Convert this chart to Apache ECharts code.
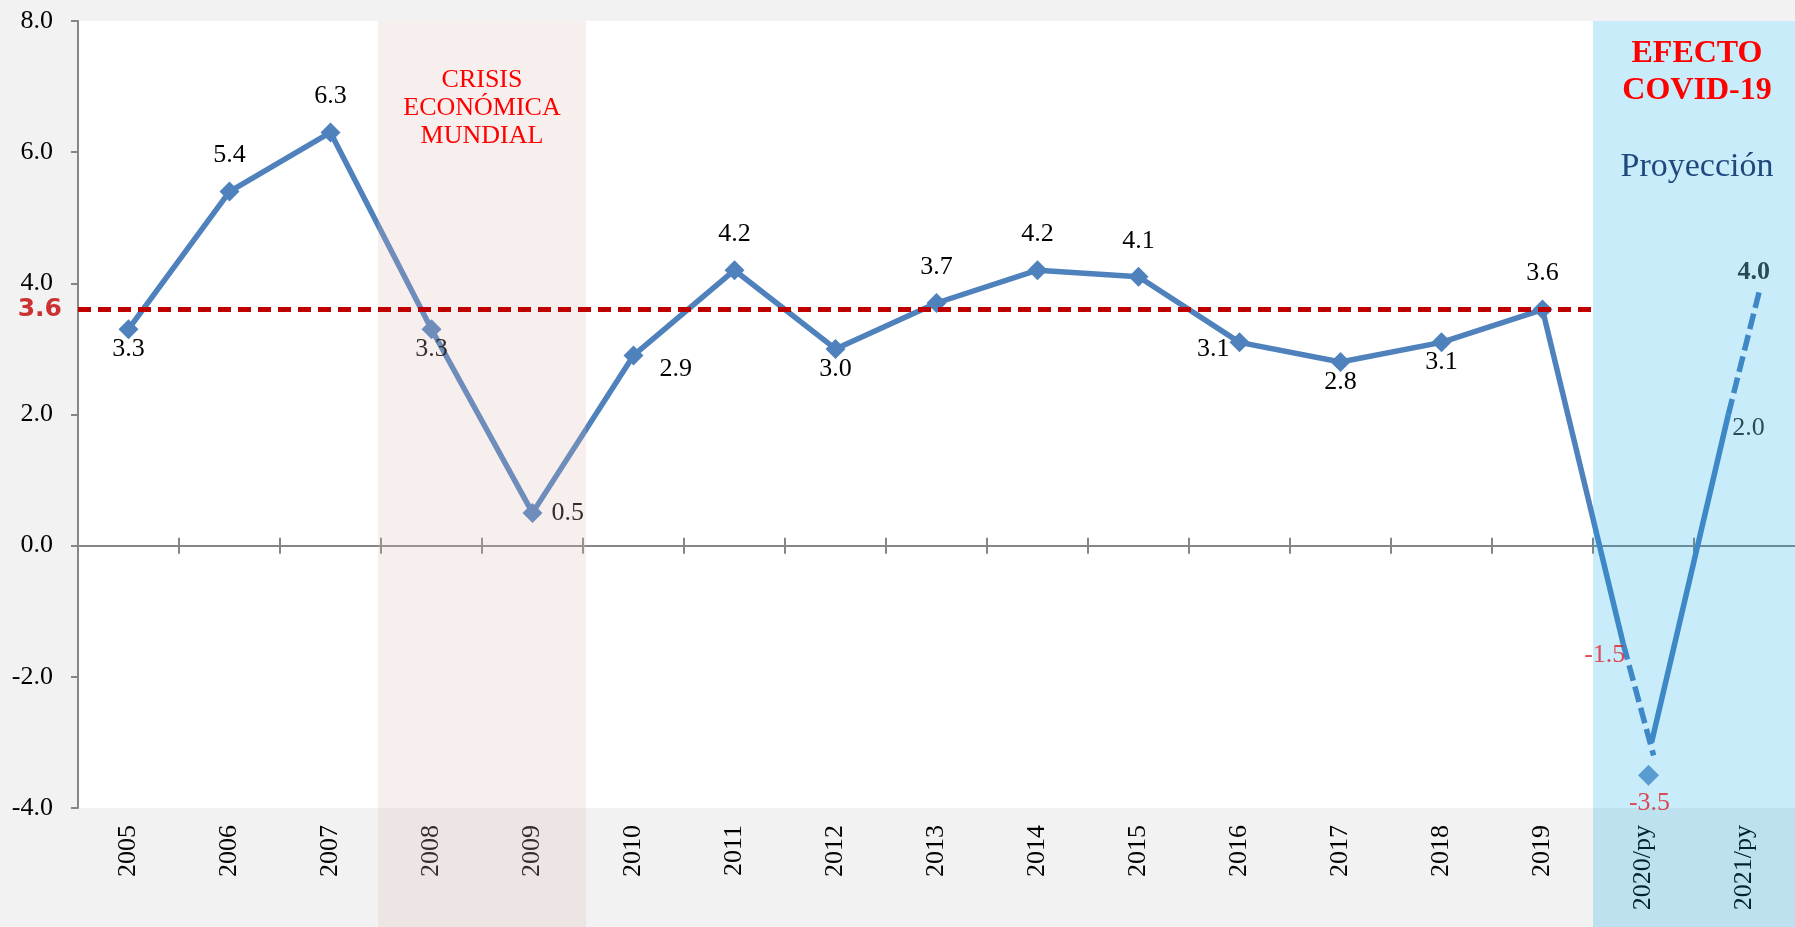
<!DOCTYPE html>
<html>
<head>
<meta charset="utf-8">
<title>Crecimiento</title>
<script src="https://cdn.jsdelivr.net/npm/echarts@6/dist/echarts.min.js"></script>
<style>
    html, body { margin: 0; padding: 0; background: #f2f2f2; }
    #main { width: 1795px; height: 927px; }
</style>
</head>
<body>
<div id="main"></div>
<script>
// categorias y valores
var years = ['2005', '2006', '2007', '2008', '2009', '2010', '2011', '2012', '2013',
    '2014', '2015', '2016', '2017', '2018', '2019', '2020/py', '2021/py'];
var growth = [3.3, 5.4, 6.3, 3.3, 0.5, 2.9, 4.2, 3.0, 3.7, 4.2, 4.1, 3.1, 2.8, 3.1, 3.6];
// lado de la etiqueta de cada punto
var labelSide = ['b', 't', 't', 'b', 'r', 'rb', 't', 'b', 't', 't', 't', 'l', 'b', 'b', 't'];

var avgGrowth = 3.6;            // promedio 2005-2019
var avgFrom = 0, avgTo = 14;    // indices 2005 .. 2019

// proyecciones: primera estimacion y estimacion actual
var projFirst = [-1.5, 2.0];    // 2020/py, 2021/py
var projNow = [-3.5, 4.0];      // 2020/py, 2021/py

// trazos de la proyeccion (x en unidades de categoria, 15 = 2020/py, 16 = 2021/py)
var projSolidA = [[14, 3.6], [14.8, -1.5]];
var projDashA = [[14.8, -1.5], [15.1, -3.2]];
var projSolidB = [[15.08, -3.0], [15.84, 2.0]];
var projDashB = [[15.84, 2.0], [16.15, 3.9]];

var yMin = -4, yMax = 8, yStep = 2;

var crisisYears = ['2008', '2009'];
var covidYears = ['2020/py', '2021/py'];

var serif = 'Liberation Serif';
var blue = '#4f81bd';
var axisGray = '#868686';

var sides = {
    t: {position: 'top', distance: 13},
    b: {position: 'bottom', distance: -3},
    r: {position: 'right', distance: 9},
    rb: {position: 'right', distance: 16, offset: [0, 14]},
    l: {position: 'left', distance: 0, offset: [0, 7]}
};

var myChart = echarts.init(document.getElementById('main'));

var mainData = growth.map(function (v, i) {
    return {value: v, label: sides[labelSide[i]]};
});

function projLine(data, dashed) {
    return {
        type: 'line',
        xAxisIndex: 2,
        data: data,
        symbol: 'none',
        silent: true,
        lineStyle: {color: blue, width: 5.5, type: dashed ? [16, 6] : 'solid'}
    };
}

function oneDecimal(p) {
    return p.value[1].toFixed(1);
}

var i2020 = years.indexOf('2020/py');

var option = {
    animation: false,
    backgroundColor: '#f2f2f2',
    grid: {
        left: 78,
        right: 0,
        top: 21,
        bottom: 119,
        show: true,
        backgroundColor: '#fff',
        borderWidth: 0
    },
    xAxis: [{
        type: 'category',
        data: years,
        position: 'bottom',
        axisLine: {show: false, onZero: false},
        axisTick: {show: false},
        axisLabel: {rotate: 90, margin: 17, color: '#000', fontFamily: serif, fontSize: 26, interval: 0}
    }, {
        type: 'category',
        data: years,
        position: 'bottom',
        axisLine: {onZero: true, onZeroAxisIndex: 0, lineStyle: {color: axisGray, width: 2}},
        axisTick: {show: false},
        axisLabel: {show: false}
    }, {
        type: 'value',
        position: 'top',
        min: -0.5,
        max: years.length - 0.5,
        show: false
    }],
    yAxis: {
        type: 'value',
        min: yMin,
        max: yMax,
        interval: yStep,
        axisLine: {show: true, onZero: false, lineStyle: {color: axisGray, width: 2}},
        axisTick: {show: true, length: 7, lineStyle: {color: axisGray, width: 2}},
        splitLine: {show: false},
        axisLabel: {
            margin: 25,
            color: '#000',
            fontFamily: serif,
            fontSize: 26,
            formatter: function (v) { return v.toFixed(1); }
        }
    },
    series: [{
        // marcas que cruzan el eje en 0, entre categorias
        name: 'ticks',
        type: 'custom',
        xAxisIndex: 0,
        silent: true,
        data: years.slice(1).map(function (c, i) { return [i + 1, 0]; }),
        renderItem: function (params, api) {
            var p = api.coord([api.value(0), 0]);
            var x = p[0] - api.size([1, 0])[0] / 2;
            return {
                type: 'line',
                shape: {x1: x, y1: p[1] - 8, x2: x, y2: p[1] + 8},
                style: {stroke: axisGray, lineWidth: 2}
            };
        }
    }, {
        name: 'PIB',
        type: 'line',
        xAxisIndex: 0,
        data: mainData,
        symbol: 'diamond',
        symbolSize: 20,
        itemStyle: {color: blue},
        lineStyle: {color: blue, width: 5.5},
        label: {
            show: true,
            color: '#000',
            fontFamily: serif,
            fontSize: 26,
            formatter: function (p) { return p.value.toFixed(1); }
        }
    }, {
        name: '2020',
        type: 'scatter',
        xAxisIndex: 0,
        data: [[i2020, projNow[0]]],
        symbol: 'diamond',
        symbolSize: 21,
        symbolOffset: [5, 0],
        itemStyle: {color: blue}
    },
        projLine(projSolidA, false),
        projLine(projDashA, true),
        projLine(projSolidB, false),
        projLine(projDashB, true),
    {
        // etiquetas 2.0 / 4.0 (bajo la franja azul)
        name: 'etiquetas 2021',
        type: 'scatter',
        xAxisIndex: 2,
        symbolSize: 0,
        silent: true,
        data: [{
            value: projDashB[0],
            label: {position: 'right', distance: 4, offset: [0, 14], formatter: projFirst[1].toFixed(1)}
        }, {
            value: projDashB[1],
            label: {position: 'top', distance: 5, offset: [-6, 0], fontWeight: 'bold', formatter: projNow[1].toFixed(1)}
        }],
        label: {show: true, color: '#000', fontFamily: serif, fontSize: 26}
    }, {
        // etiquetas rojas de 2020
        name: 'etiquetas 2020',
        type: 'scatter',
        xAxisIndex: 2,
        z: 20,
        symbolSize: 0,
        silent: true,
        data: [{
            value: projDashA[0],
            label: {position: 'left', distance: 0, offset: [2, 11], formatter: projFirst[0].toFixed(1)}
        }, {
            value: [i2020, projNow[0]],
            label: {position: 'bottom', distance: 15, offset: [6, 0], formatter: projNow[0].toFixed(1)}
        }],
        label: {show: true, color: '#e0202a', fontFamily: serif, fontSize: 26}
    }, {
        name: 'Promedio',
        type: 'line',
        xAxisIndex: 2,
        z: 20,
        silent: true,
        symbol: 'none',
        data: [[avgFrom - 0.5, avgGrowth], [avgTo + 0.5, avgGrowth]],
        lineStyle: {color: '#c00000', width: 5, type: [13, 7]}
    }, {
        name: 'Promedio etiqueta',
        type: 'scatter',
        xAxisIndex: 2,
        z: 20,
        symbolSize: 0,
        silent: true,
        data: [[avgFrom - 0.5, avgGrowth]],
        label: {
            show: true, position: 'left', distance: 16,
            color: '#c00000', fontFamily: 'DejaVu Sans', fontWeight: 'bold', fontSize: 25,
            formatter: oneDecimal
        }
    }]
};
myChart.setOption(option);

// franjas de fondo (encima de la linea, semitransparentes) y textos
function catX(c) {
    return myChart.convertToPixel({xAxisIndex: 0}, c);
}

function band(cats, pad, fill) {
    var half = (catX(years[1]) - catX(years[0])) / 2;
    var top = myChart.convertToPixel({yAxisIndex: 0}, yMax);
    var a = catX(cats[0]) - half - pad;
    var b = catX(cats[1]) + half + pad;
    return {
        type: 'rect',
        z: 10,
        silent: true,
        shape: {x: a, y: top, width: b - a, height: myChart.getHeight() - top},
        style: {fill: fill}
    };
}

var crisisMid = (catX(crisisYears[0]) + catX(crisisYears[1])) / 2;
var covidMid = (catX(covidYears[0]) + catX(covidYears[1])) / 2;

myChart.setOption({
    graphic: [
        band(crisisYears, 3, 'rgba(220,181,181,0.23)'),
        band(covidYears, 0, 'rgba(0,166,236,0.21)'),
        {
            type: 'text', z: 30, silent: true,
            x: crisisMid, y: 66,
            style: {
                text: 'CRISIS\nECONÓMICA\nMUNDIAL',
                fill: '#ff0000',
                font: '26px "Liberation Serif"',
                lineHeight: 28,
                textAlign: 'center',
                textVerticalAlign: 'top'
            }
        }, {
            type: 'text', z: 30, silent: true,
            x: covidMid + 3, y: 35,
            style: {
                text: 'EFECTO\nCOVID-19',
                fill: '#ff0000',
                font: 'bold 32px "Liberation Serif"',
                lineHeight: 37,
                textAlign: 'center',
                textVerticalAlign: 'top'
            }
        }, {
            type: 'text', z: 30, silent: true,
            x: covidMid + 3, y: 167,
            style: {
                text: 'Proyección',
                fill: '#1f497d',
                font: '34px "Liberation Serif"',
                textAlign: 'center',
                textVerticalAlign: 'middle'
            }
        }
    ]
});
</script>
</body>
</html>
